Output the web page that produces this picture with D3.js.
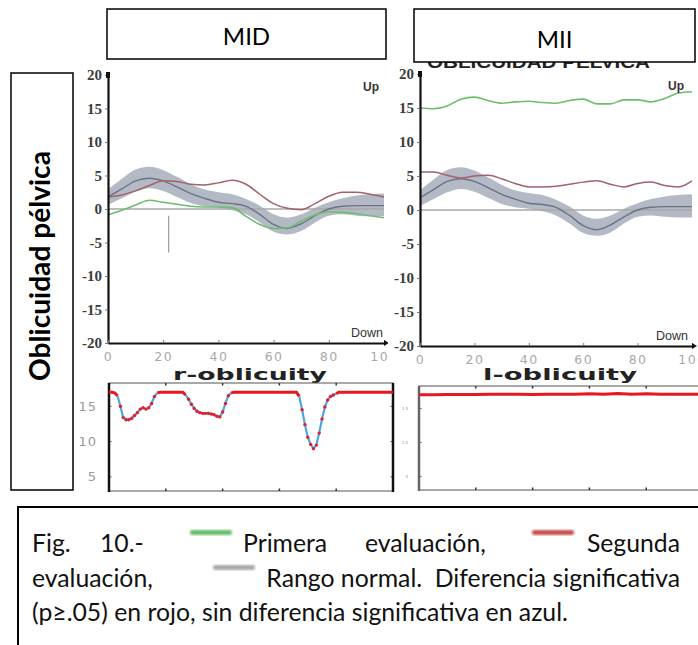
<!DOCTYPE html>
<html>
<head>
<meta charset="utf-8">
<script src="https://cdn.jsdelivr.net/npm/d3@7"></script>
<style>
  body { margin: 0; background: #fff; }
  svg { display: block; }
</style>
</head>
<body>
<svg id="fig" width="698" height="645"></svg>
<script>
// ---- Pelvic obliquity (degrees) sampled every 5 % of the gait cycle ----
const cycle = [0, 5, 10, 15, 20, 25, 30, 35, 40, 45, 50, 55, 60, 65, 70, 75, 80, 85, 90, 95, 100];

// normal range (mean and band limits)
const normalMean  = [1.8, 3.0, 4.2, 4.6, 4.2, 3.3, 2.3, 1.6, 1.0, 0.8, 0.4, -0.8, -2.3, -2.9, -2.2, -1.0, 0.0, 0.4, 0.5, 0.5, 0.5];
const normalUpper = [2.9, 4.5, 5.9, 6.3, 5.8, 4.8, 3.7, 2.9, 2.5, 2.2, 1.5, 0.5, -0.8, -1.3, -0.8, 0.2, 1.0, 1.6, 2.0, 2.2, 2.3];
const normalLower = [0.6, 1.6, 2.6, 3.1, 2.7, 1.8, 0.9, 0.4, 0.2, -0.2, -0.8, -2.0, -3.4, -3.8, -3.3, -2.0, -1.0, -0.8, -1.0, -1.1, -1.1];

// right limb (MID)
const midFirst  = [-0.9, -0.2, 0.6, 1.3, 1.0, 0.7, 0.4, 0.3, 0.3, 0.2, -1.1, -2.3, -2.9, -2.8, -1.8, -0.9, -0.4, -0.5, -0.7, -1.0, -1.3];
const midSecond = [1.8, 2.1, 2.7, 3.5, 4.2, 4.1, 3.7, 3.6, 3.9, 4.3, 3.7, 2.2, 0.8, 0.1, -0.1, 0.8, 1.9, 2.5, 2.5, 2.2, 1.8];
const midEvent = 22;

// left limb (MII)
const miiFirst  = [15.0, 14.9, 15.3, 16.3, 16.6, 16.1, 15.7, 15.9, 16.0, 15.8, 15.7, 16.1, 16.3, 15.6, 15.6, 16.2, 16.2, 15.9, 16.4, 17.2, 17.4];
const miiSecond = [5.6, 5.6, 5.1, 4.7, 5.0, 5.1, 4.6, 3.9, 3.4, 3.4, 3.5, 3.8, 4.1, 4.3, 3.8, 3.4, 3.9, 4.1, 3.6, 3.4, 4.3];

const angleTicks = [-20, -15, -10, -5, 0, 5, 10, 15, 20];
const cycleTicks = [0, 20, 40, 60, 80, 100];

// ---- statistical comparison traces ----
// r-oblicuity: one sample per % of cycle
const rOblicuity = [
  17.0, 17.0, 16.9, 16.5, 15.0, 13.4, 13.1, 13.1, 13.3, 13.7,
  14.1, 14.6, 14.8, 14.6, 14.8, 15.4, 16.4, 16.9, 17.0, 17.0,
  17.0, 17.0, 17.0, 17.0, 17.0, 17.0, 17.0, 16.6, 16.0, 15.3,
  14.7, 14.3, 14.1, 14.0, 14.0, 14.0, 13.9, 13.8, 13.6, 13.5,
  14.2, 15.4, 16.5, 16.9, 17.0, 17.0, 17.0, 17.0, 17.0, 17.0,
  17.0, 17.0, 17.0, 17.0, 17.0, 17.0, 17.0, 17.0, 17.0, 17.0,
  17.0, 17.0, 17.0, 17.0, 17.0, 17.0, 17.0, 16.4, 14.5, 12.4,
  10.6, 9.6, 9.0, 9.5, 11.2, 13.2, 14.9, 15.9, 16.4, 16.6,
  16.8, 17.0, 17.0, 17.0, 17.0, 17.0, 17.0, 17.0, 17.0, 17.0,
  17.0, 17.0, 17.0, 17.0, 17.0, 17.0, 17.0, 17.0, 17.0, 17.0,
  17.0
];
// stretches without significant difference (sample index ranges)
const rNonSignificant = [[3, 17], [27, 43], [67, 80]];

// l-oblicuity, sampled every 5 %
const lOblicuity = [17.0, 17.0, 17.05, 17.05, 17.05, 17.1, 17.1, 17.1, 17.05, 17.1, 17.1, 17.1, 17.15, 17.1, 17.2, 17.1, 17.15, 17.1, 17.1, 17.1, 17.1];
const spmTicks = [5, 10, 15];

const colFirst = "#6dbd6d", colSecond = "#a3616a", colBand = "#aab0bd", colMean = "#6b7283";
const serif = "'Times New Roman', 'Liberation Serif', 'DejaVu Serif', serif";
const svg = d3.select("#fig");
const defs = svg.append("defs");
defs.append("clipPath").attr("id", "clipMid").append("rect").attr("x", 60).attr("y", 67).attr("width", 328).attr("height", 310);
defs.append("filter").attr("id", "soft").append("feGaussianBlur").attr("stdDeviation", 0.9);

// ---------- kinematic panels ----------
function kinematicPanel(o) {
  const g = svg.append("g").attr("clip-path", o.clip ? `url(#${o.clip})` : null);
  const x = d3.scaleLinear([0, 100], [o.x0, o.x1]);
  const y = d3.scaleLinear([-20, 20], [o.yb, o.yt]);
  const px = (d, i) => x(cycle[i]);
  const line = d3.line().x(px).y(d => y(d)).curve(d3.curveMonotoneX);

  g.append("path")
    .attr("d", d3.area().x(px).y0((d, i) => y(normalLower[i])).y1((d, i) => y(normalUpper[i])).curve(d3.curveMonotoneX)(normalMean))
    .attr("fill", colBand).attr("opacity", 0.88);
  g.append("line").attr("x1", x(0)).attr("x2", x(100)).attr("y1", y(0)).attr("y2", y(0))
    .attr("stroke", "#a9a9a9").attr("stroke-width", 1.5);
  g.append("path").attr("d", line(normalMean)).attr("fill", "none").attr("stroke", colMean).attr("stroke-width", 1.4);
  g.append("path").attr("d", line(o.second)).attr("fill", "none").attr("stroke", colSecond).attr("stroke-width", 1.5);
  g.append("path").attr("d", line(o.first)).attr("fill", "none").attr("stroke", colFirst).attr("stroke-width", 1.6);

  if (o.event != null) {
    g.append("line").attr("x1", x(o.event)).attr("x2", x(o.event)).attr("y1", y(-1)).attr("y2", y(-6.5))
      .attr("stroke", "#888").attr("stroke-width", 1);
  }

  // y axis
  const ya = g.append("g").attr("transform", `translate(${x(0)},0)`)
    .call(d3.axisLeft(y).tickValues(angleTicks).tickFormat(d => String(d)).tickSize(3).tickSizeOuter(0).tickPadding(3));
  ya.select(".domain").attr("stroke", "#111").attr("stroke-width", 2.2);
  ya.selectAll(".tick line").attr("stroke", "#777");
  ya.selectAll(".tick text").style("font-family", serif)
    .style("font-size", "15px").style("font-weight", "bold").attr("fill", "#3c3c3c");
  g.append("rect").attr("x", x(0) - 2).attr("y", y(20) - 3).attr("width", 4).attr("height", 6).attr("fill", "#111");

  // x axis
  const xa = g.append("g").attr("transform", `translate(0,${y(-20)})`)
    .call(d3.axisBottom(x).tickValues(cycleTicks).tickSize(-3).tickSizeOuter(0).tickPadding(9));
  xa.select(".domain").attr("stroke", "#111").attr("stroke-width", 2.2);
  xa.selectAll(".tick line").attr("stroke", "#777");
  xa.selectAll(".tick text").style("font-family", "'DejaVu Sans', sans-serif").style("font-size", "12.5px")
    .attr("letter-spacing", 1.5).attr("fill", "#a9a9a9");
  g.append("path").attr("d", `M${x(100)},${y(-20) - 3}L${x(100) + 5},${y(-20)}L${x(100)},${y(-20) + 3}Z`).attr("fill", "#111");

  g.append("text").attr("x", o.upX).attr("y", y(20) + 16).attr("font-family", "'Liberation Sans', sans-serif")
    .attr("font-size", 12).attr("font-weight", "bold").attr("fill", "#333").text("Up");
  g.append("text").attr("x", o.downX).attr("y", y(-20) - 6).attr("text-anchor", "end")
    .attr("font-family", "'Liberation Sans', sans-serif").attr("font-size", 12.5).attr("fill", "#333").text("Down");
  return { x, y, g };
}

// original panel header, mostly hidden under the MII box
svg.append("text").attr("x", 427).attr("y", 68).attr("font-family", "'Liberation Sans', sans-serif")
  .attr("font-size", 17).attr("font-weight", "bold").attr("fill", "#222")
  .attr("textLength", 223).attr("lengthAdjust", "spacingAndGlyphs").text("OBLICUIDAD PELVICA");

kinematicPanel({ x0: 108, x1: 384, yt: 75, yb: 343, first: midFirst, second: midSecond, event: midEvent, upX: 363, downX: 383, clip: "clipMid" });
kinematicPanel({ x0: 420, x1: 692, yt: 74, yb: 346, first: miiFirst, second: miiSecond, event: null, upX: 668, downX: 688 });

// ---------- statistical comparison panels ----------
function spmPanel(o) {
  const g = svg.append("g");
  const x = d3.scaleLinear([0, 100], [o.x0, o.x1]);
  const y = d3.scaleLinear([3, 18.3], [o.yb, o.yt]);

  g.append("text").attr("x", o.titleX).attr("y", 380).attr("text-anchor", "middle")
    .attr("font-family", "'DejaVu Sans', sans-serif").attr("font-weight", "bold").attr("font-size", 15)
    .attr("textLength", 154).attr("lengthAdjust", "spacingAndGlyphs").attr("fill", "#222").text(o.title);

  g.append("rect").attr("x", o.x0).attr("y", o.yt).attr("width", o.x1 - o.x0).attr("height", o.yb - o.yt)
    .attr("fill", "none").attr("stroke", "#555").attr("stroke-width", 1);
  // edge ticks
  [20, 40, 60, 80].forEach(v => {
    g.append("line").attr("x1", x(v)).attr("x2", x(v)).attr("y1", o.yt).attr("y2", o.yt + 2.5).attr("stroke", "#333").attr("stroke-width", 1.5);
    g.append("line").attr("x1", x(v)).attr("x2", x(v)).attr("y1", o.yb).attr("y2", o.yb - 2.5).attr("stroke", "#333").attr("stroke-width", 1.5);
  });
  spmTicks.forEach(v => {
    g.append("line").attr("x1", o.x0).attr("x2", o.x0 + 2.5).attr("y1", y(v)).attr("y2", y(v)).attr("stroke", "#555");
    g.append("line").attr("x1", o.x1).attr("x2", o.x1 - 2.5).attr("y1", y(v)).attr("y2", y(v)).attr("stroke", "#555");
    g.append("text").attr("x", o.labelX).attr("y", y(v)).attr("dy", "0.35em").attr("text-anchor", "end")
      .attr("font-family", "'DejaVu Sans', sans-serif").attr("font-size", o.labelSize).attr("letter-spacing", 1)
      .attr("fill", "#9a9a9a").text(v);
  });
  g.append("line").attr("x1", o.x0).attr("x2", o.x0).attr("y1", o.yt).attr("y2", o.yb + 1)
    .attr("stroke", o.leftEdge).attr("stroke-width", 2.5);
  return { x, y, g };
}

const rp = spmPanel({ x0: 109, x1: 393, yt: 383, yb: 491, title: "r-oblicuity", titleX: 250, labelX: 97, labelSize: 13, leftEdge: "#111" });
rp.g.append("line").attr("x1", 393).attr("x2", 393).attr("y1", 383).attr("y2", 492).attr("stroke", "#111").attr("stroke-width", 2.5);
{
  const pts = rOblicuity.map((v, i) => [rp.x(i), rp.y(v)]);
  const seg = d3.line();
  const inNonSig = i => rNonSignificant.some(([a, b]) => i > a && i < b);
  // significant stretches in red, the rest in blue
  let start = 0;
  const redRuns = [];
  rNonSignificant.forEach(([a, b]) => { redRuns.push([start, a]); start = b; });
  redRuns.push([start, rOblicuity.length - 1]);
  rNonSignificant.forEach(([a, b]) => {
    rp.g.append("path").attr("d", seg(pts.slice(a, b + 1))).attr("fill", "none")
      .attr("stroke", "#4ea6e0").attr("stroke-width", 2.2);
  });
  redRuns.forEach(([a, b]) => {
    rp.g.append("path").attr("d", seg(pts.slice(a, b + 1))).attr("fill", "none")
      .attr("stroke", "#e8161e").attr("stroke-width", 3);
  });
  rp.g.selectAll("circle.s").data(rOblicuity.map((v, i) => i).filter(inNonSig)).join("circle")
    .attr("cx", i => pts[i][0]).attr("cy", i => pts[i][1]).attr("r", 1.7).attr("fill", "#e0202a");
}

const lp = spmPanel({ x0: 419, x1: 703, yt: 386, yb: 490, title: "l-oblicuity", titleX: 560, labelX: 409, labelSize: 4, leftEdge: "#666" });
lp.g.append("path").attr("d", d3.line().x((d, i) => lp.x(cycle[i])).y(d => lp.y(d))(lOblicuity))
  .attr("fill", "none").attr("stroke", "#e8161e").attr("stroke-width", 3);

// ---------- header boxes ----------
function headerBox(x, y, w, h, label, ty) {
  svg.append("rect").attr("x", x).attr("y", y).attr("width", w).attr("height", h)
    .attr("fill", "#fff").attr("stroke", "#000").attr("stroke-width", 1.5);
  svg.append("text").attr("x", x + w / 2).attr("y", ty).attr("text-anchor", "middle")
    .attr("font-family", "Lato, 'Open Sans', sans-serif").attr("font-size", 24).attr("fill", "#000").text(label);
}
headerBox(107, 9, 279, 50, "MID", 45);
headerBox(414, 9, 281, 53, "MII", 48);

// row label
svg.append("rect").attr("x", 11).attr("y", 73).attr("width", 62).attr("height", 417)
  .attr("fill", "#fff").attr("stroke", "#000").attr("stroke-width", 1.5);
const rowLabel = svg.append("text").attr("transform", "translate(50,266) rotate(-90)").attr("text-anchor", "middle")
  .attr("font-family", "Lato, 'Open Sans', sans-serif").attr("font-weight", "bold").attr("font-size", 24)
  .attr("fill", "#000").text("Oblicuidad pélvica");
{
  const len = rowLabel.node().getComputedTextLength();
  rowLabel.attr("font-size", 24 * 230 / len);
}

// ---------- caption ----------
svg.append("rect").attr("x", 18).attr("y", 507).attr("width", 700).attr("height", 160)
  .attr("fill", "#fff").attr("stroke", "#000").attr("stroke-width", 2);
const cap = svg.append("g").attr("font-family", "Lato, 'Open Sans', sans-serif").attr("fill", "#111");
const line3 = cap.append("text").attr("x", 32).attr("y", 621).attr("font-size", 20)
  .text("(p≥.05) en rojo, sin diferencia significativa en azul.");
const capSize = 20 * 536 / line3.node().getComputedTextLength();
line3.attr("font-size", capSize);
function capWord(x, y, t, anchor) {
  cap.append("text").attr("x", x).attr("y", y).attr("font-size", capSize).attr("text-anchor", anchor || "start")
    .style("white-space", "pre").text(t);
}
function swatch(x, y, c) {
  cap.append("rect").attr("x", x).attr("y", y).attr("width", 42).attr("height", 5).attr("rx", 2)
    .attr("fill", c).attr("filter", "url(#soft)");
}
capWord(32, 552, "Fig.");
capWord(100, 552, "10.-");
swatch(190, 530, "#66bd6c");
capWord(243, 552, "Primera");
capWord(365, 552, "evaluación,");
swatch(532, 530, "#c8504e");
capWord(680, 552, "Segunda", "end");
capWord(32, 587, "evaluación,");
swatch(213, 565, "#a9a9a9");
capWord(680, 587, "Rango normal.  Diferencia significativa", "end");
</script>
</body>
</html>
